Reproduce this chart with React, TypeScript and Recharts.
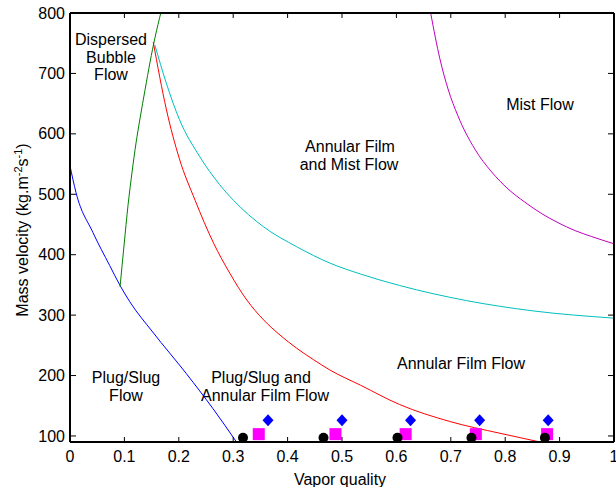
import React from 'react';
import { ComposedChart, Line, Scatter, XAxis, YAxis, Customized } from 'recharts';

const X_TICKS = [0, 0.1, 0.2, 0.3, 0.4, 0.5, 0.6, 0.7, 0.8, 0.9, 1];
const Y_TICKS = [100, 200, 300, 400, 500, 600, 700, 800];

// transition boundaries (vapor quality, mass velocity)
const plugSlugLine = [
  { x: 0, y: 547 }, { x: 0.011, y: 503 }, { x: 0.042, y: 437 }, { x: 0.073, y: 382 },
  { x: 0.092, y: 349 }, { x: 0.11, y: 322 }, { x: 0.152, y: 272 }, { x: 0.214, y: 203 },
  { x: 0.263, y: 145 }, { x: 0.306, y: 90 },
];
const bubbleLine = [
  { x: 0.092, y: 347 }, { x: 0.0994, y: 416 }, { x: 0.1067, y: 482 }, { x: 0.1141, y: 537 },
  { x: 0.1214, y: 585 }, { x: 0.1288, y: 626 }, { x: 0.138, y: 673 }, { x: 0.1472, y: 719 },
  { x: 0.1564, y: 760 }, { x: 0.1669, y: 800 },
];
const annularLine = [
  { x: 0.153, y: 752 }, { x: 0.177, y: 641 }, { x: 0.201, y: 559 }, { x: 0.23, y: 490 },
  { x: 0.264, y: 419 }, { x: 0.294, y: 369 }, { x: 0.325, y: 325 }, { x: 0.356, y: 292 },
  { x: 0.386, y: 267 }, { x: 0.417, y: 245 }, { x: 0.448, y: 226 }, { x: 0.478, y: 209 },
  { x: 0.534, y: 184 }, { x: 0.606, y: 152 }, { x: 0.698, y: 124 }, { x: 0.79, y: 104.5 },
  { x: 0.864, y: 90 },
];
const mistAnnularLine = [
  { x: 0.156, y: 747 }, { x: 0.177, y: 684 }, { x: 0.201, y: 624 }, { x: 0.238, y: 563 },
  { x: 0.275, y: 516 }, { x: 0.3005, y: 490 }, { x: 0.356, y: 446 }, { x: 0.417, y: 413 },
  { x: 0.478, y: 386 }, { x: 0.534, y: 368 }, { x: 0.606, y: 349 }, { x: 0.729, y: 324 },
  { x: 0.851, y: 307 }, { x: 1.0, y: 295 },
];
const mistLine = [
  { x: 0.663, y: 800 }, { x: 0.68, y: 724 }, { x: 0.695, y: 674 }, { x: 0.713, y: 630 },
  { x: 0.744, y: 575 }, { x: 0.775, y: 537 }, { x: 0.805, y: 509 }, { x: 0.836, y: 487 },
  { x: 0.867, y: 468 }, { x: 0.897, y: 453 }, { x: 0.928, y: 440 }, { x: 0.959, y: 430 },
  { x: 1.0, y: 418 },
];

// experimental points
const circlePts = [
  { x: 0.318, y: 97 }, { x: 0.466, y: 97 }, { x: 0.602, y: 97 }, { x: 0.738, y: 97 }, { x: 0.873, y: 97 },
];
const squarePts = [
  { x: 0.347, y: 103 }, { x: 0.488, y: 103 }, { x: 0.617, y: 103 }, { x: 0.746, y: 103 }, { x: 0.877, y: 103 },
];
const diamondPts = [
  { x: 0.364, y: 126 }, { x: 0.5, y: 126 }, { x: 0.626, y: 126 }, { x: 0.753, y: 126 }, { x: 0.879, y: 126 },
];

const FONT = '"Liberation Sans", Arial, sans-serif';

const BottomTick = (props: any) => {
  const { x, y, payload } = props;
  return (
    <g>
      <line x1={x} x2={x} y1={y} y2={y - 5} stroke="#000" />
      <text x={x} y={y + 14} dy="0.35em" textAnchor="middle" fontSize={16} fill="#000">
        {payload.value}
      </text>
    </g>
  );
};

const TopTick = (props: any) => {
  const { x, y } = props;
  return <line x1={x} x2={x} y1={y} y2={y + 5} stroke="#000" />;
};

const LeftTick = (props: any) => {
  const { x, y, payload } = props;
  return (
    <g>
      <line x1={x} x2={x + 6} y1={y} y2={y} stroke="#000" />
      <text x={x - 5} y={y} dy="0.35em" textAnchor="end" fontSize={16} fill="#000">
        {payload.value}
      </text>
    </g>
  );
};

const RightTick = (props: any) => {
  const { x, y } = props;
  return <line x1={x} x2={x - 6} y1={y} y2={y} stroke="#000" />;
};

const Circle = (p: any) => <circle cx={p.cx} cy={p.cy} r={5} fill="#000" />;
const Square = (p: any) => <rect x={p.cx - 6} y={p.cy - 6} width={12} height={12} fill="#ff00ff" />;
const Diamond = (p: any) => (
  <path d={`M${p.cx},${p.cy - 6}L${p.cx + 5.5},${p.cy}L${p.cx},${p.cy + 6}L${p.cx - 5.5},${p.cy}Z`} fill="#0000ff" />
);

const Labels = () => (
  <g fontSize={16} fill="#000" textAnchor="middle" fontFamily={FONT}>
    <text x={111} y={39.5} dy="0.35em">Dispersed</text>
    <text x={111} y={57} dy="0.35em">Bubble</text>
    <text x={111} y={74.5} dy="0.35em">Flow</text>
    <text x={350} y={146} dy="0.35em">Annular Film</text>
    <text x={349} y={164.5} dy="0.35em">and Mist Flow</text>
    <text x={540} y={104} dy="0.35em">Mist Flow</text>
    <text x={461} y={363} dy="0.35em">Annular Film Flow</text>
    <text x={126} y={377} dy="0.35em">Plug/Slug</text>
    <text x={126} y={395} dy="0.35em">Flow</text>
    <text x={261} y={377} dy="0.35em">Plug/Slug and</text>
    <text x={265} y={395} dy="0.35em">Annular Film Flow</text>
    <text x={340} y={479} dy="0.35em">Vapor quality</text>
    <text x={22} y={230} dy="0.35em" transform="rotate(-90, 22, 230)">
      Mass velocity (kg.m<tspan dy={-6} fontSize={11}>-2</tspan>
      <tspan dy={6}>s</tspan>
      <tspan dy={-6} fontSize={11}>-1</tspan>
      <tspan dy={6}>)</tspan>
    </text>
  </g>
);

export default function App() {
  return (
    <div style={{ position: 'absolute', left: 0, top: 0, width: 616, height: 487, background: '#fff', fontFamily: FONT }}>
      <ComposedChart width={616} height={487} margin={{ top: 12, right: 1, bottom: 0, left: 0 }}>
        <XAxis
          xAxisId={0}
          dataKey="x"
          type="number"
          domain={[0, 1]}
          ticks={X_TICKS}
          allowDataOverflow
          height={45}
          tickSize={0}
          tickMargin={0}
          tickLine={false}
          axisLine={{ stroke: '#000', strokeWidth: 2 }}
          tick={BottomTick}
          interval={0}
        />
        <XAxis
          xAxisId="top"
          orientation="top"
          dataKey="x"
          type="number"
          domain={[0, 1]}
          ticks={X_TICKS}
          allowDataOverflow
          height={1}
          tickSize={0}
          tickMargin={0}
          tickLine={false}
          axisLine={{ stroke: '#000', strokeWidth: 2 }}
          tick={TopTick}
          interval={0}
        />
        <YAxis
          yAxisId={0}
          type="number"
          domain={[90, 800]}
          ticks={Y_TICKS}
          allowDataOverflow
          width={70}
          tickSize={0}
          tickMargin={0}
          tickLine={false}
          axisLine={{ stroke: '#000', strokeWidth: 2 }}
          tick={LeftTick}
          interval={0}
        />
        <YAxis
          yAxisId="right"
          orientation="right"
          type="number"
          domain={[90, 800]}
          ticks={Y_TICKS}
          allowDataOverflow
          width={1}
          tickSize={0}
          tickMargin={0}
          tickLine={false}
          axisLine={{ stroke: '#000', strokeWidth: 2 }}
          tick={RightTick}
          interval={0}
        />
        <Line data={plugSlugLine} dataKey="y" type="monotone" stroke="#0000ff" strokeWidth={1} dot={false} isAnimationActive={false} />
        <Line data={bubbleLine} dataKey="y" type="monotone" stroke="#008000" strokeWidth={1} dot={false} isAnimationActive={false} />
        <Line data={annularLine} dataKey="y" type="monotone" stroke="#ff0000" strokeWidth={1} dot={false} isAnimationActive={false} />
        <Line data={mistAnnularLine} dataKey="y" type="monotone" stroke="#00bfbf" strokeWidth={1} dot={false} isAnimationActive={false} />
        {/* same domains as the main axes; hooked to the top/right axes so the box gets drawn */}
        <Line data={mistLine} dataKey="y" xAxisId="top" yAxisId="right" type="monotone" stroke="#bf00bf" strokeWidth={1} dot={false} isAnimationActive={false} />
        <Scatter data={squarePts} dataKey="y" shape={Square} isAnimationActive={false} />
        <Scatter data={diamondPts} dataKey="y" shape={Diamond} isAnimationActive={false} />
        <Scatter data={circlePts} dataKey="y" shape={Circle} isAnimationActive={false} />
        <Customized component={Labels} />
      </ComposedChart>
    </div>
  );
}
